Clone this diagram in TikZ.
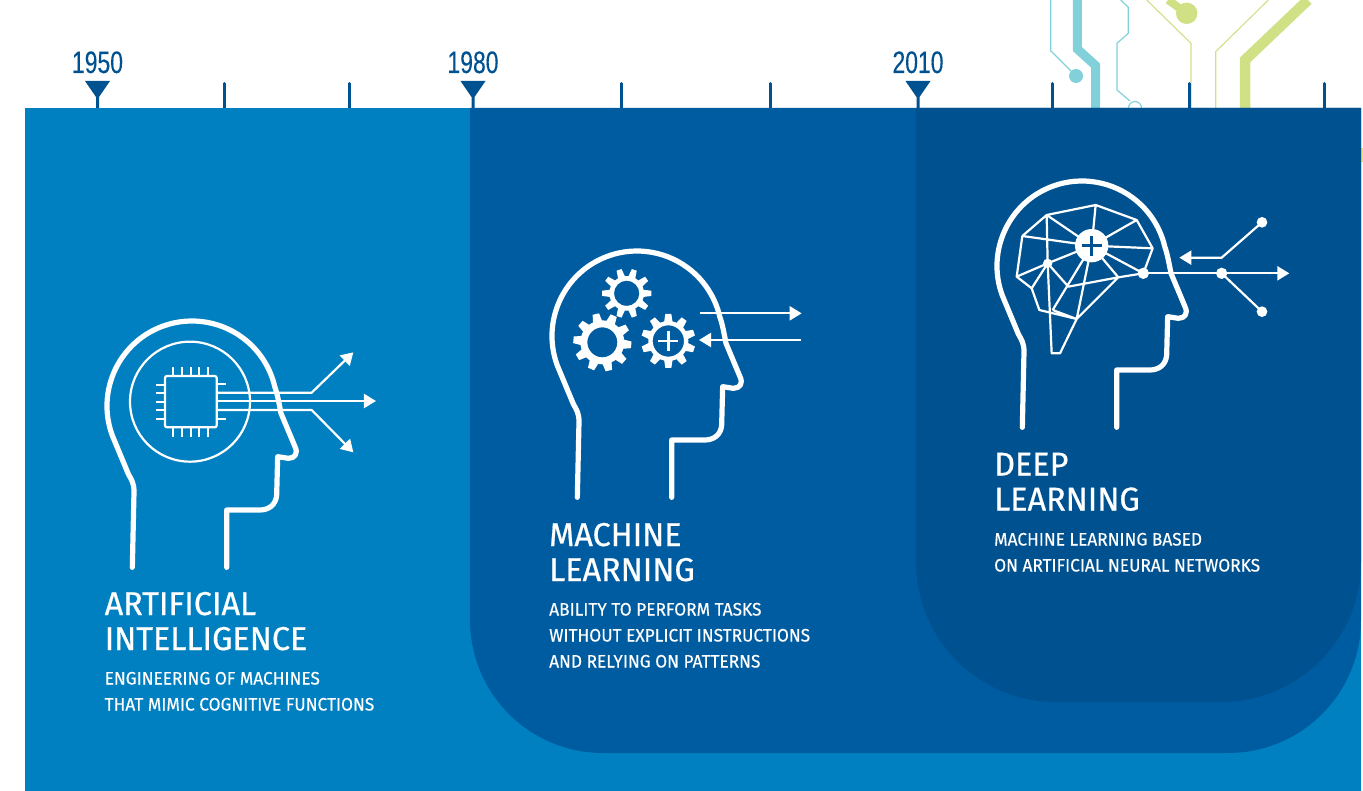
\documentclass[tikz,border=0pt]{standalone}
\usepackage{fontspec}
\usetikzlibrary{arrows.meta}
\newfontfamily\yearfont[FakeStretch=0.74,FakeBold=0.2]{Liberation Sans}
\newfontfamily\titlefont[FakeStretch=0.98,FakeBold=0.6]{Fira Sans}
\newfontfamily\subfont[FakeStretch=0.96,FakeBold=0.3]{Fira Sans}
\definecolor{aiblue}{HTML}{0080C1}
\definecolor{mlblue}{HTML}{005CA1}
\definecolor{dlblue}{HTML}{005190}
\definecolor{teal}{HTML}{82D1DA}
\definecolor{lime}{HTML}{CFE085}
\tikzset{
  headline/.style={white,line width=5.2pt,line cap=round,line join=round},
  thinw/.style={white,line width=2.2pt},
  arr/.style={thinw,-{Triangle[length=12pt,width=14pt]}},
  icon/.style={x=0.33333pt,y=-0.33333pt},
  tick/.style={dlblue,line width=3pt,line cap=round},
  year/.style={text=dlblue,font=\yearfont\fontsize{31}{31}\selectfont,anchor=base,inner sep=0pt},
  title/.style={text=white,font=\titlefont\fontsize{33}{35}\selectfont,anchor=base west,inner sep=0pt,align=left},
  sub/.style={text=white,font=\subfont\fontsize{18}{26}\selectfont,anchor=base west,inner sep=0pt,align=left},
}
\newcommand\headoutline{%
  \draw[headline] (112,772) -- (117,545) .. controls (117,520) and (110,510) .. (100,492)
    -- (51.4,375.2) arc[start angle=160,end angle=347,radius=255]
    .. controls (548,255) and (552,280) .. (558,310) -- (600,410)
    .. controls (610,430) and (600,445) .. (580,445) -- (548,440) -- (545,555)
    .. controls (543,585) and (520,600) .. (495,600) -- (395,600) -- (395,772);}
% x y hole-radius ring-radius tooth-radius start-angle
\newcommand\gearicon[6]{%
  \fill[white,even odd rule] (#1,#2) circle (#4) (#1,#2) circle (#3);
  \foreach \a in {0,36,...,324}{
    \fill[white,shift={(#1,#2)},rotate=\a+#6]
      (#4-3,{-0.21*#4}) -- (#5,{-0.15*#4}) -- (#5,{0.15*#4}) -- (#4-3,{0.21*#4}) -- cycle;
  }}
\begin{document}
\begin{tikzpicture}[x=1pt,y=-1pt]
\useasboundingbox (0,0) rectangle (1363,791);
% circuit traces
\draw[teal,line width=1.2pt] (1050.7,0) -- (1050.7,50.7) -- (1076,76);
\fill[teal] (1076,76) circle (7);
\draw[teal,line width=9pt] (1077.3,-3) -- (1077.3,49) -- (1095.7,65.7) -- (1095.7,109);
\draw[teal,line width=1.2pt] (1120.7,0) -- (1128.3,7.3) -- (1128.3,33.3) -- (1117,43.3) -- (1117,90) -- (1130,101);
\draw[teal,line width=1.2pt] (1135,108) circle (6.5);
\draw[lime,line width=1.1pt] (1146.7,0) -- (1191,43.3) -- (1191,109);
\draw[lime,line width=8pt] (1168,0) -- (1186.7,13.3);
\fill[lime] (1186.7,13.3) circle (10.7);
\draw[lime,line width=1.1pt] (1268.3,0) -- (1215.7,51.7) -- (1215.7,109);
\draw[lime,line width=10.5pt] (1308,0) -- (1245,60) -- (1245,109);
\fill[yellow!70!orange!60] (1361,148) rectangle (1363,162);
% ticks
\foreach \tx in {224,349,621,770,1052.5,1189,1324}{\draw[tick] (\tx,83.5) -- (\tx,109);}
\foreach \tx in {97.5,473,918}{
  \fill[dlblue] (\tx-12.5,81) -- (\tx+12.5,81) -- (\tx+1.5,97) -- (\tx+1.5,109) -- (\tx-1.5,109) -- (\tx-1.5,97) -- cycle;}
\node[year] (y1950) at (97.5,73) {1950};
\node[year] (y1980) at (473,73) {1980};
\node[year] (y2010) at (918,73) {2010};
% panels
\fill[aiblue] (24.5,108) rectangle (1361,791);
\fill[mlblue] (470,108) -- (1361,108) -- (1361,620) arc[start angle=0,end angle=90,radius=133] -- (603,753) arc[start angle=90,end angle=180,radius=133] -- cycle;
\fill[dlblue] (916,108) -- (1361,108) -- (1361,562) arc[start angle=0,end angle=90,radius=140] -- (1056,702) arc[start angle=90,end angle=180,radius=140] -- cycle;
% AI icon
\begin{scope}[shift={(95,310)},icon]
  \headoutline
  \draw[thinw] (285,275) circle (180);
  \draw[thinw,rounded corners=2pt] (210,198) rectangle (365,352);
  \foreach \p in {235,260,287,313,340}{
    \draw[thinw] (\p,172) -- (\p,198);
    \draw[thinw] (\p,352) -- (\p,380);}
  \foreach \p in {225,250,275,300,327}{\draw[thinw] (183,\p) -- (210,\p);}
  \foreach \p in {222,327}{\draw[thinw] (365,\p) -- (393,\p);}
  \draw[arr] (368,248) -- (650,248) -- (775,127);
  \draw[arr] (368,273) -- (843,273);
  \draw[arr] (368,300) -- (650,300) -- (775,427);
\end{scope}
% ML icon
\begin{scope}[shift={(540,240)},icon]
  \headoutline
  \gearicon{260}{160}{38}{52}{74}{0}
  \gearicon{187}{307}{45}{66}{87}{-5}
  \gearicon{385}{303}{47}{60}{81}{18}
  \draw[white,line width=2.8pt] (355,303) -- (415,303) (385,273) -- (385,333);
  \draw[arr] (480,220) -- (785,220);
  \draw[arr] (782,300) -- (477,300);
\end{scope}
% DL icon
\begin{scope}[shift={(980,170)},icon]
  \begin{scope}[shift={(15,0)}]\headoutline\end{scope}
  \coordinate (hub) at (335,227);
  \coordinate (a) at (200,135);
  \coordinate (b) at (347,105);
  \coordinate (c) at (470,150);
  \coordinate (d) at (518,235);
  \coordinate (e) at (490,310);
  \coordinate (f) at (415,322);
  \coordinate (g) at (265,350);
  \coordinate (h) at (110,320);
  \coordinate (i) at (127,198);
  \coordinate (j) at (155,355);
  \coordinate (k) at (178,420);
  \coordinate (l) at (290,447);
  \coordinate (m) at (218,420);
  \coordinate (n) at (215,550);
  \coordinate (o) at (240,550);
  \coordinate (p) at (203,280);
  \draw[thinw,line join=round] (i) -- (a) -- (b) -- (c) -- (d) -- (e) -- (f) -- (g) -- (p) -- (h) -- (i)
    (h) -- (j) -- (k) -- (l) -- (o) -- (n) -- (p) -- (a)
    (j) -- (p) (p) -- (hub) (i) -- (hub) (a) -- (hub) (b) -- (hub) (c) -- (hub) (d) -- (hub) (e) -- (hub) (f) -- (hub)
    (f) -- (l) (l) -- (hub) (m) -- (hub) (m) -- (l);
  \fill[white] (hub) circle (50);
  \draw[dlblue,line width=3.6pt] (305,227) -- (365,227) (335,197) -- (335,257);
  \fill[white] (p) circle (14) (e) circle (17) (725,310) circle (17) (846,157) circle (16) (846,425) circle (16);
  \draw[arr] (e) -- (928,310);
  \draw[arr] (846,157) -- (725,263) -- (598,263);
  \draw[thinw] (725,310) -- (846,425);
\end{scope}
% texts (anchor is on the last line)
\node[title] (t1) at (104.5,650) {ARTIFICIAL\\INTELLIGENCE};
\node[sub] (s1) at (104.5,710.5) {ENGINEERING OF MACHINES\\THAT MIMIC COGNITIVE FUNCTIONS};
\node[title] (t2) at (549,581) {MACHINE\\LEARNING};
\node[sub] (s2) at (549,667.5) {ABILITY TO PERFORM TASKS\\WITHOUT EXPLICIT INSTRUCTIONS\\AND RELYING ON PATTERNS};
\node[title] (t3) at (994,510.5) {DEEP\\LEARNING};
\node[sub] (s3) at (994,571.5) {MACHINE LEARNING BASED\\ON ARTIFICIAL NEURAL NETWORKS};
\end{tikzpicture}
\end{document}
